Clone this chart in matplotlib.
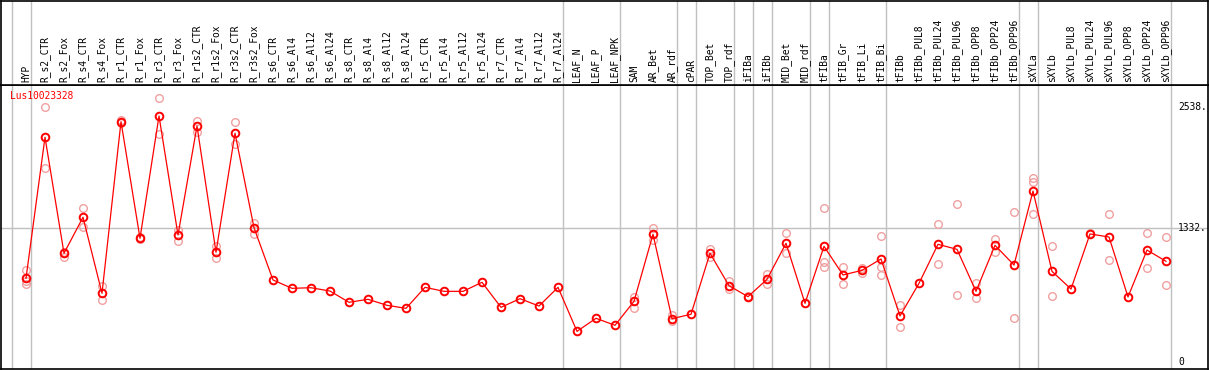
import numpy as np
import matplotlib
matplotlib.use('Agg')
from matplotlib import pyplot as plt
from matplotlib import transforms

labels = ['HYP', 'R_s2_CTR', 'R_s2_Fox', 'R_s4_CTR', 'R_s4_Fox', 'R_r1_CTR', 'R_r1_Fox',
          'R_r3_CTR', 'R_r3_Fox', 'R_r1s2_CTR', 'R_r1s2_Fox', 'R_r3s2_CTR', 'R_r3s2_Fox',
          'R_s6_CTR', 'R_s6_Al4', 'R_s6_Al12', 'R_s6_Al24', 'R_s8_CTR', 'R_s8_Al4',
          'R_s8_Al12', 'R_s8_Al24', 'R_r5_CTR', 'R_r5_Al4', 'R_r5_Al12', 'R_r5_Al24',
          'R_r7_CTR', 'R_r7_Al4', 'R_r7_Al12', 'R_r7_Al24', 'LEAF_N', 'LEAF_P', 'LEAF_NPK',
          'SAM', 'AR_Bet', 'AR_rdf', 'cPAR', 'TOP_Bet', 'TOP_rdf', 'iFIBa', 'iFIBb',
          'MID_Bet', 'MID_rdf', 'tFIBa', 'tFIB_Gr', 'tFIB_Li', 'tFIB_Bi', 'tFIBb',
          'tFIBb_PUL8', 'tFIBb_PUL24', 'tFIBb_PUL96', 'tFIBb_OPP8', 'tFIBb_OPP24',
          'tFIBb_OPP96', 'sXYLa', 'sXYLb', 'sXYLb_PUL8', 'sXYLb_PUL24', 'sXYLb_PUL96',
          'sXYLb_OPP8', 'sXYLb_OPP24', 'sXYLb_OPP96']

# mean expression per sample
means = [830, 2233, 1079, 1437, 681, 2388, 1228, 2445, 1261, 2345, 1089, 2273, 1333,
         813, 730, 736, 703, 591, 621, 561, 531, 740, 700, 700, 790, 541, 627, 554, 740,
         302, 432, 362, 601, 1268, 428, 472, 1079, 756, 647, 820, 1178, 581, 1148, 863,
         909, 1022, 455, 780, 1168, 1118, 700, 1158, 962, 1698, 899, 723, 1271, 1241,
         644, 1111, 999]

# replicate values
reps = [[910, 800, 770], [2537, 1924], [1045, 1094], [1526, 1343], [753, 614],
        [2400, 2380], [1220, 1240], [2621, 2263], [1310, 1204], [2395, 2289],
        [1151, 1035], [2382, 2163], [1377, 1271],
        [], [], [], [], [], [], [], [], [], [], [], [], [], [], [], [], [], [], [],
        [647, 531], [1333, 1211], [465, 405], [], [1118, 1039], [806, 720], [655, 640],
        [870, 773], [1278, 1079], [], [1526, 989, 945], [945, 770], [935, 880],
        [1251, 945, 860], [564, 348], [], [1367, 969], [1566, 664], [780, 631],
        [1218, 1094], [1487, 432], [1825, 1791, 1467], [1151, 654], [], [1284],
        [1467, 1012], [], [1278, 929], [1241, 763]]

group_ends = [0, 1, 29, 32, 35, 36, 38, 39, 40, 42, 43, 46, 53, 54, 61]
yticks = [0, 1332, 2538]
title = 'Lus10023328'

x = np.arange(1, len(labels) + 1)
W, H = 1209, 370
font = 'DejaVu Sans Mono'
fs = 6.9
grey = '#c0c0c0'

fig = plt.figure(figsize=(W / 100, H / 100), dpi=100)
ax = fig.add_axes([1 / W, 1 / H, 1207 / W, 284 / H])
hax = fig.add_axes([1 / W, 285 / H, 1207 / W, 84.5 / H])

xlim = (1 + (1 - 26) / 19, 1 + (1208 - 26) / 19)
for a in (ax, hax):
    a.set_xlim(xlim)
    a.set_xticks([])
    a.set_yticks([])
    for s in a.spines.values():
        s.set_linewidth(1.2)
        s.set_color('black')
    for g in group_ends:
        a.axvline(g + 0.24, color=grey, lw=1.0, zorder=0)
ax.set_ylim((361.7 - 369) * 9.95, (361.7 - 85) * 9.95)
hax.set_ylim(0, 1)

ax.axhline(1332, color=grey, lw=1.0, zorder=0)

for xi, rv in zip(x, reps):
    if rv:
        ax.plot([xi] * len(rv), rv, 'o', ms=5.5, mfc='none', mec='#f0a0a0', mew=1.0, zorder=2)
ax.plot(x, means, '-', color='red', lw=0.9, zorder=3)
ax.plot(x, means, 'o', ms=5.5, mfc='none', mec='red', mew=1.4, zorder=4)

for xi, lab in zip(x, labels):
    hax.text(xi, 0.035, lab, rotation=90, ha='center', va='bottom',
             fontfamily=font, fontsize=fs, color='black')

ax.text(9 / 1207, 1 - 6 / 284, title, transform=ax.transAxes, ha='left', va='top',
        fontfamily=font, fontsize=fs, color='red')

tr = transforms.blended_transform_factory(ax.transAxes, ax.transData)
for t in yticks:
    lab = str(t) if t == 0 else str(t) + '.'
    ax.text(1 - 1 / 1207 if t else 1 - 24 / 1207, t, lab, transform=tr, ha='right', va='center',
            fontfamily=font, fontsize=fs, color='black')

fig.savefig('out.png', dpi=100)
